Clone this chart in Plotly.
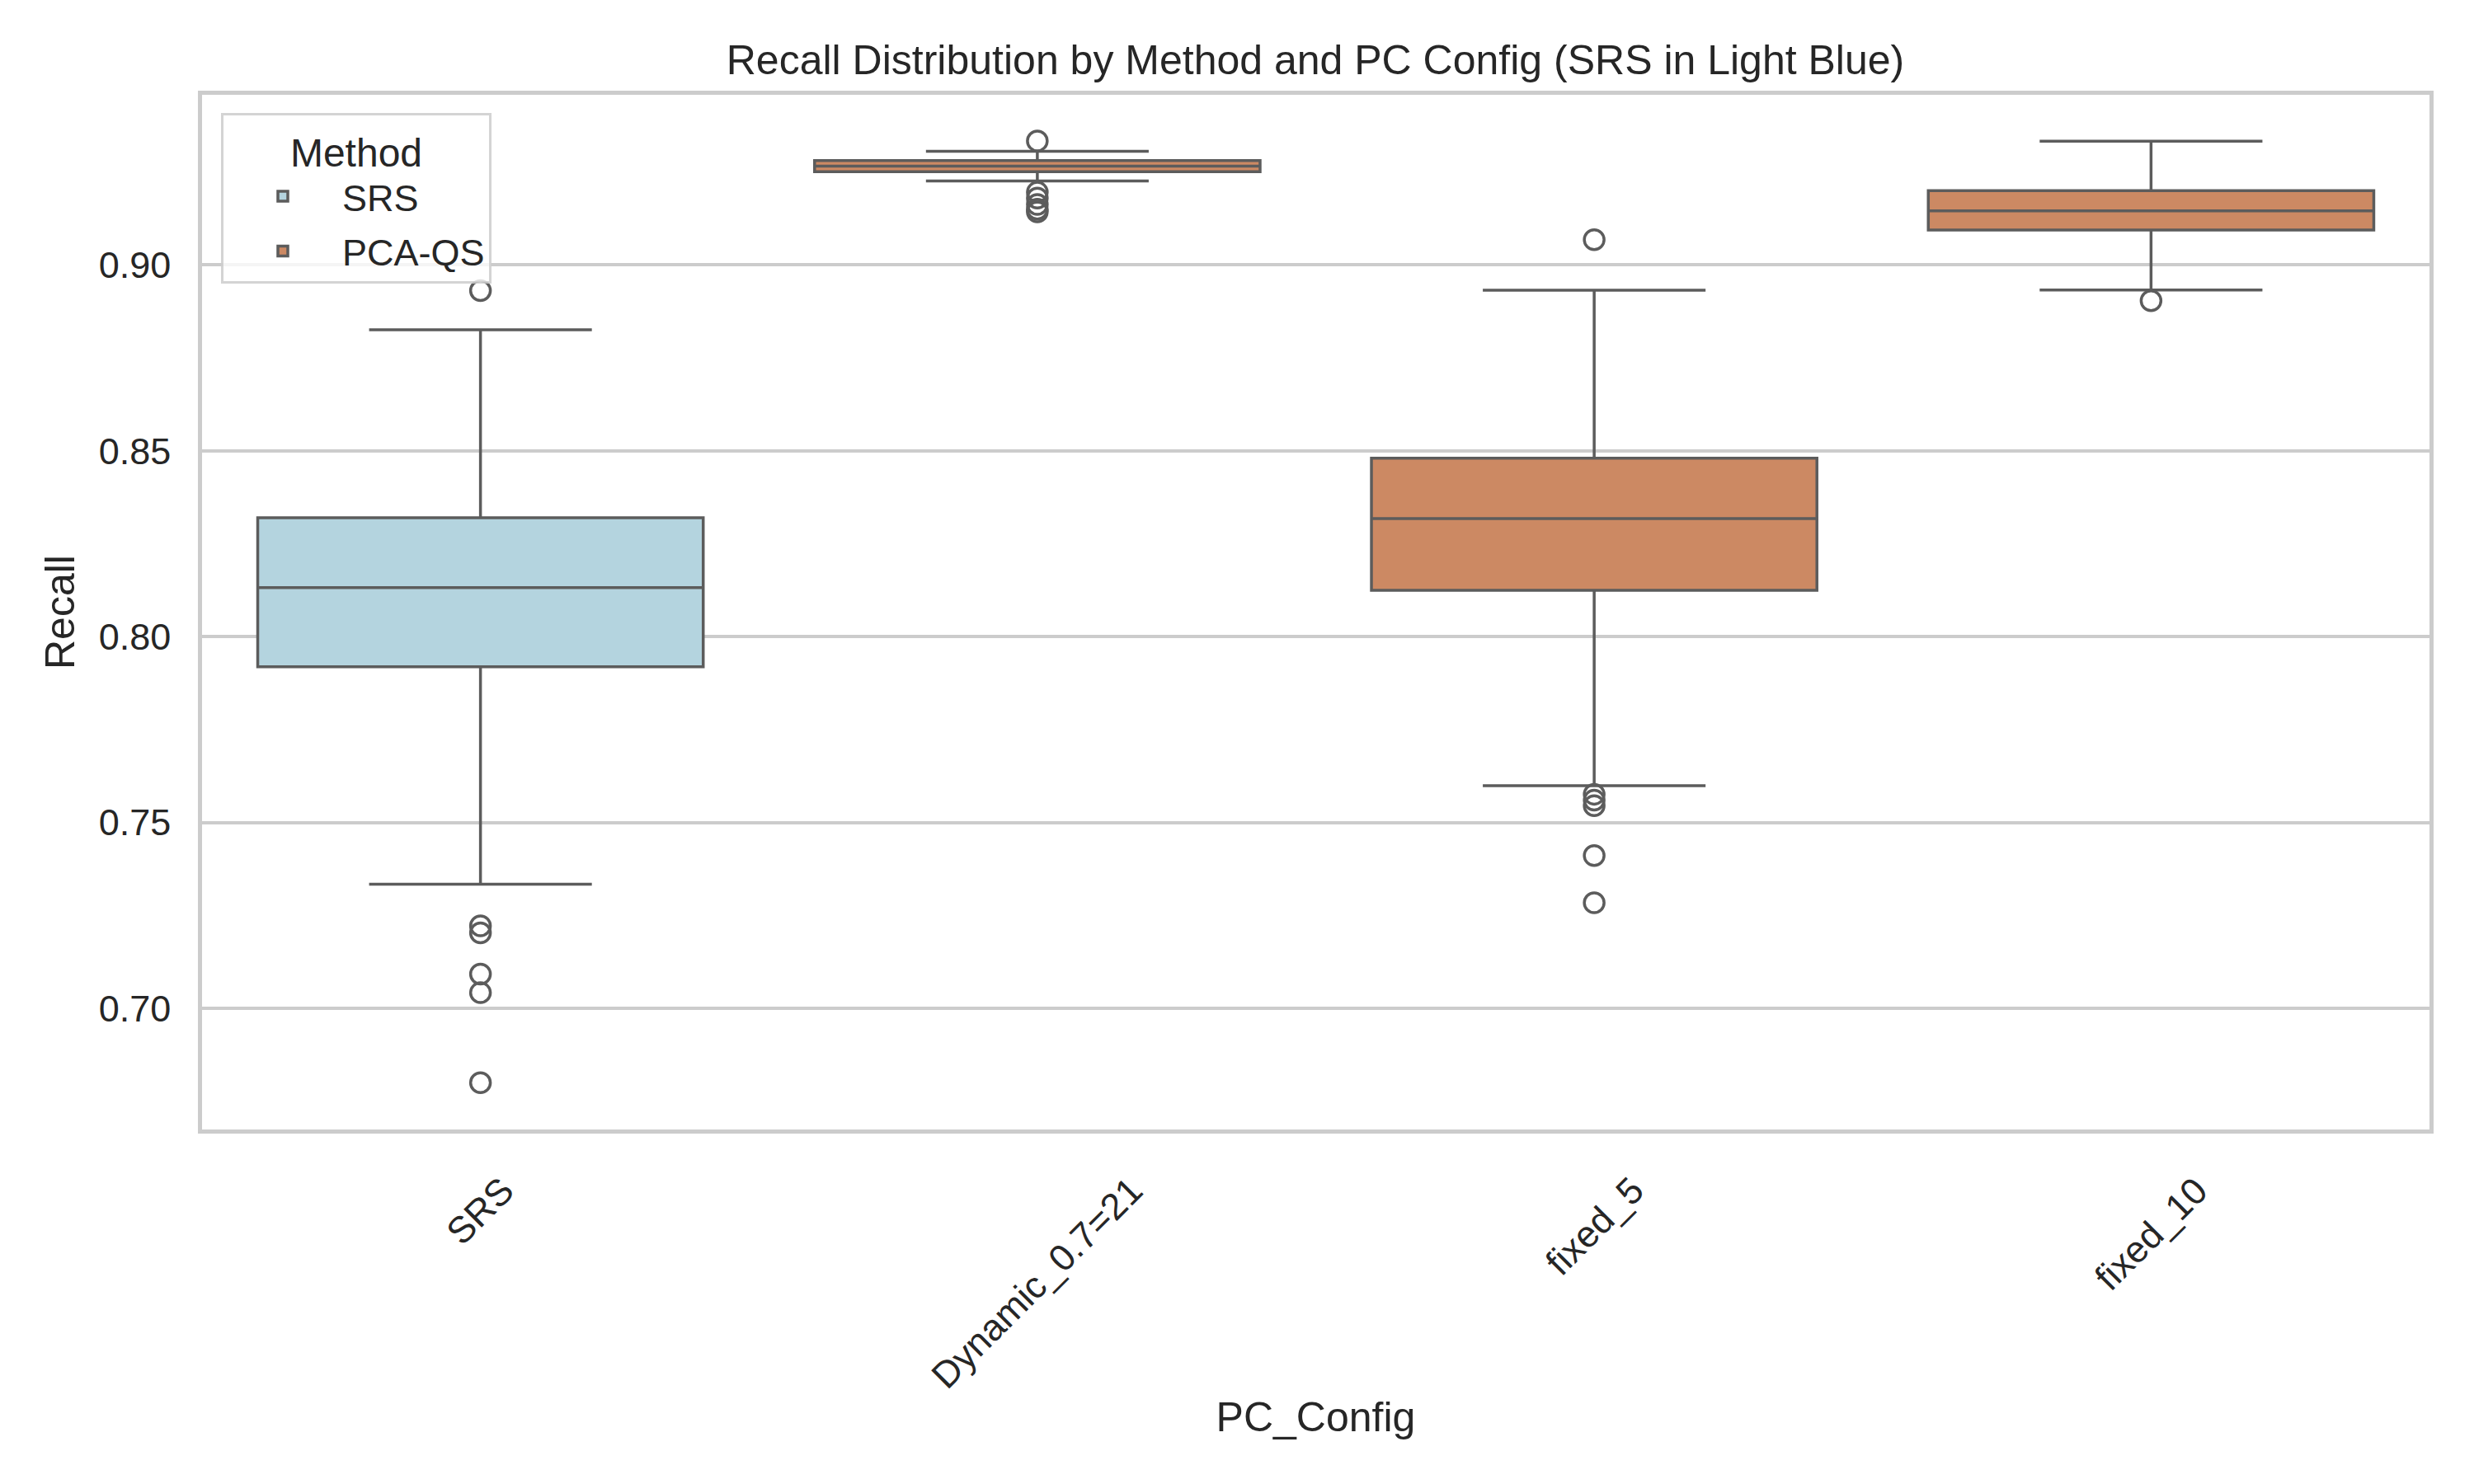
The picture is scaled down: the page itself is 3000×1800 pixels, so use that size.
import plotly.graph_objects as go

# ---- data ----
categories = ["SRS", "Dynamic_0.7=21", "fixed_5", "fixed_10"]

srs_cat = ["SRS"]
srs_q1 = [0.7919]
srs_median = [0.8132]
srs_q3 = [0.8320]
srs_low = [0.7334]
srs_high = [0.8826]
srs_out_x = ["SRS"] * 6
srs_out_y = [0.8931, 0.7222, 0.7203, 0.7092, 0.7042, 0.6800]

pca_cat = ["Dynamic_0.7=21", "fixed_5", "fixed_10"]
pca_q1 = [0.9251, 0.8125, 0.9094]
pca_median = [0.9266, 0.8318, 0.9146]
pca_q3 = [0.9281, 0.8480, 0.9200]
pca_low = [0.9226, 0.7599, 0.8933]
pca_high = [0.9306, 0.8932, 0.9333]
pca_out_x = ["Dynamic_0.7=21"] * 6 + ["fixed_5"] * 6 + ["fixed_10"]
pca_out_y = [0.9334, 0.9196, 0.9180, 0.9163, 0.9150, 0.9143,
             0.9068, 0.7576, 0.7560, 0.7545, 0.7411, 0.7284,
             0.8904]

y_ticks = [0.70, 0.75, 0.80, 0.85, 0.90]

# ---- styles ----
FONT = "Arial, Liberation Sans, sans-serif"
TXT = "#262626"
EDGE = "#5c5c5c"
BLUE = "#b4d4df"
ORANGE = "#cc8963"
GRID = "#cccccc"

fig = go.Figure()
fig.add_trace(go.Box(
    name="SRS", x=srs_cat, q1=srs_q1, median=srs_median, q3=srs_q3,
    lowerfence=srs_low, upperfence=srs_high, width=0.8,
    fillcolor=BLUE, line=dict(color=EDGE, width=3.5), whiskerwidth=0.5,
    boxpoints=False, legendgroup="SRS", showlegend=True))
fig.add_trace(go.Box(
    name="PCA-QS", x=pca_cat, q1=pca_q1, median=pca_median, q3=pca_q3,
    lowerfence=pca_low, upperfence=pca_high, width=0.8,
    fillcolor=ORANGE, line=dict(color=EDGE, width=3.5), whiskerwidth=0.5,
    boxpoints=False, legendgroup="PCA", showlegend=True))

marker = dict(symbol="circle-open", size=24, color=EDGE, line=dict(color=EDGE, width=3.5))
fig.add_trace(go.Scatter(x=srs_out_x, y=srs_out_y, mode="markers", marker=marker,
                         showlegend=False, legendgroup="SRS"))
fig.add_trace(go.Scatter(x=pca_out_x, y=pca_out_y, mode="markers", marker=marker,
                         showlegend=False, legendgroup="PCA"))

# rotated category labels, centered under each category like matplotlib
for c in categories:
    fig.add_annotation(x=c, xref="x", y=-0.036, yref="paper", text=c,
                       textangle=-45, showarrow=False, xanchor="center", yanchor="top",
                       font=dict(family=FONT, size=45, color=TXT))

# page body has an 8px margin, so the figure is 8px smaller than the window
fig.update_layout(
    width=2992, height=1792,
    margin=dict(l=237, r=54, t=107, b=430, autoexpand=False),
    paper_bgcolor="white", plot_bgcolor="white",
    boxmode="overlay", boxgap=0.2,
    font=dict(family=FONT, color=TXT, size=45),
    title=dict(text="Recall Distribution by Method and PC Config (SRS in Light Blue)",
               x=(1595 - 8) / 2992, xanchor="center", y=1 - (72 - 8) / 1792, yanchor="middle",
               font=dict(family=FONT, size=50, color=TXT)),
    legend=dict(x=(268 - 245) / 2701, y=0.9825, xanchor="left", yanchor="top",
                bgcolor="rgba(255,255,255,0.8)", bordercolor="rgba(204,204,204,0.85)",
                borderwidth=3, font=dict(family=FONT, size=45, color=TXT),
                title=dict(text="Method", side="top center",
                           font=dict(family=FONT, size=48, color=TXT)),
                itemwidth=134, tracegroupgap=5),
    xaxis=dict(type="category", categoryorder="array", categoryarray=categories,
               range=[-0.5, 3.5], showticklabels=False, ticks="",
               showgrid=False, zeroline=False,
               showline=True, mirror=True, linecolor=GRID, linewidth=4.5,
               title=dict(text="PC_Config", standoff=329,
                          font=dict(family=FONT, size=50, color=TXT)),
               automargin=False),
    yaxis=dict(range=[0.6674, 0.9458], tickvals=y_ticks, tickformat=".2f",
               ticks="outside", ticklen=24, tickcolor="rgba(0,0,0,0)",
               tickfont=dict(family=FONT, size=45, color=TXT),
               showgrid=True, gridcolor=GRID, gridwidth=3.5, zeroline=False,
               showline=True, mirror=True, linecolor=GRID, linewidth=4.5,
               title=dict(text="Recall", standoff=15,
                          font=dict(family=FONT, size=50, color=TXT)),
               automargin=False),
)

fig.write_html("out.html")
